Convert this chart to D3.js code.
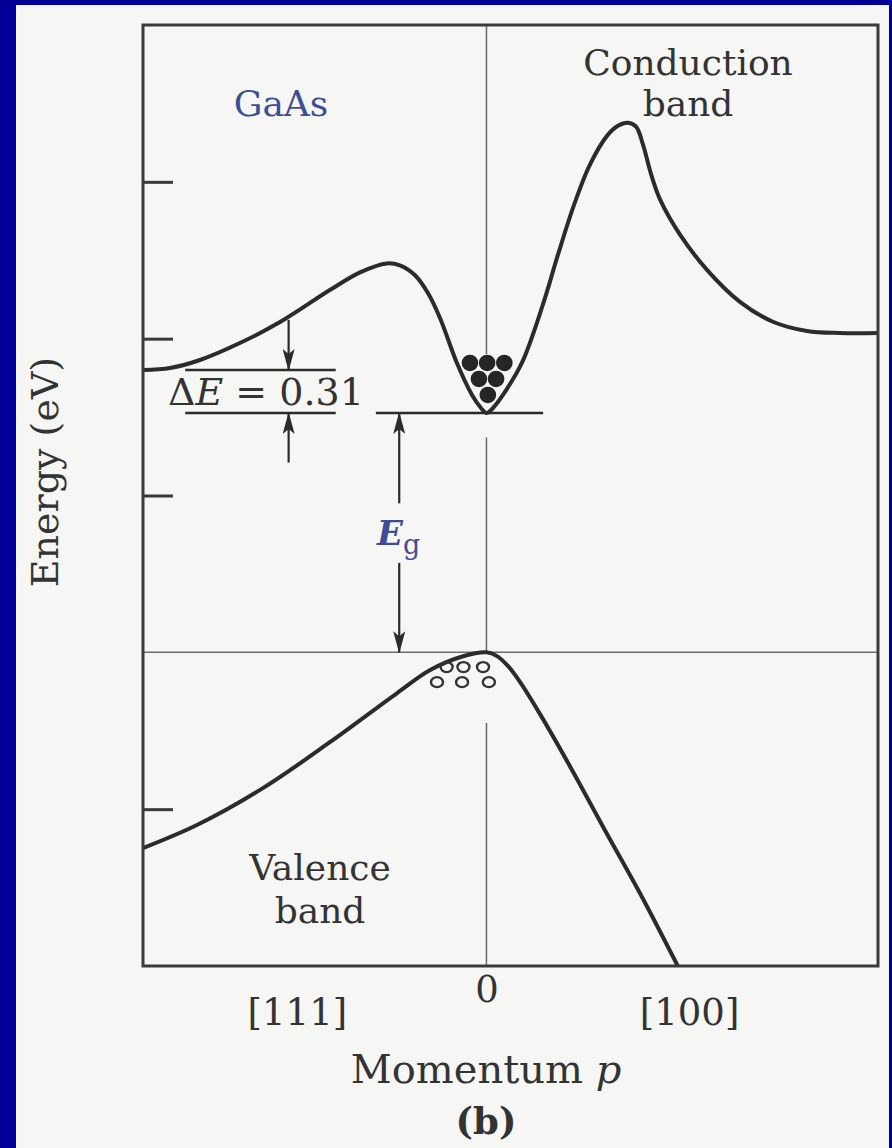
<!DOCTYPE html>
<html>
<head>
<meta charset="utf-8">
<script src="https://cdn.jsdelivr.net/npm/d3@7"></script>
<style>
  html, body { margin: 0; padding: 0; background: #000099; }
  svg { display: block; }
</style>
</head>
<body>
<div id="chart"></div>
<script>
// GaAs band diagram
// p in zone units ([111] to the left, [100] to the right), E in eV with valence top = 0
var condP = [-1.000, -0.921, -0.834, -0.718, -0.601, -0.456, -0.368, -0.290, -0.252, -0.208, -0.170, -0.135, -0.086, -0.042, -0.016, 0.0, 0.019, 0.048, 0.103, 0.164, 0.208, 0.255, 0.301, 0.351, 0.383, 0.412, 0.436, 0.456, 0.480, 0.506, 0.564, 0.642, 0.738, 0.834, 0.933, 1.029, 1.140];
var condE = [1.800, 1.813, 1.864, 1.972, 2.106, 2.310, 2.423, 2.480, 2.467, 2.404, 2.289, 2.130, 1.845, 1.641, 1.558, 1.526, 1.558, 1.641, 1.845, 2.215, 2.534, 2.853, 3.108, 3.293, 3.357, 3.376, 3.350, 3.235, 3.044, 2.885, 2.662, 2.439, 2.235, 2.108, 2.049, 2.036, 2.036];

var valP = [-1.000, -0.843, -0.651, -0.456, -0.261, -0.164, -0.068, 0.0, 0.031, 0.063, 0.098, 0.156, 0.243, 0.345, 0.447, 0.557];
var valE = [-1.248, -1.101, -0.866, -0.573, -0.261, -0.113, -0.025, 0.0, -0.024, -0.088, -0.190, -0.394, -0.726, -1.134, -1.536, -2.0];

// electrons sitting in the conduction minimum, holes at the valence top
var electronP = [-0.048, 0.002, 0.052, -0.022, 0.028, 0.004];
var electronE = [1.845, 1.845, 1.845, 1.743, 1.743, 1.641];
var holeP = [-0.116, -0.067, -0.010, -0.144, -0.071, 0.007];
var holeE = [-0.094, -0.094, -0.094, -0.190, -0.190, -0.190];

var energyTicks = [-1, 1, 2, 3];
var momentumLabels = ["[111]", "0", "[100]"];
var momentumLabelP = [-0.552, 0, 0.59];

var gapE = 1.526;     // bottom of conduction band
var valleyE = 1.80;   // [111] side valley
var deltaLabel = "0.31";

var W = 892, H = 1148;
var ink = "#2b2b2b";
var font = "DejaVu Serif, serif";

var svg = d3.select("#chart")
  .append("svg")
  .attr("width", W)
  .attr("height", H);

// page (scanned sheet) over the blue slide background
svg.append("rect")
  .attr("x", 0).attr("y", 0)
  .attr("width", W).attr("height", H)
  .attr("fill", "#000099");

svg.append("rect")
  .attr("x", 16).attr("y", 5)
  .attr("width", 873).attr("height", H - 5)
  .attr("fill", "#f6f6f4");

var x = d3.scaleLinear().domain([-1, 1.14]).range([143, 878]);
var y = d3.scaleLinear().domain([-2, 4]).range([966, 25]);

var defs = svg.append("defs");

defs.append("clipPath")
  .attr("id", "frameClip")
  .append("rect")
  .attr("x", x(-1)).attr("y", y(4))
  .attr("width", x(1.14) - x(-1)).attr("height", y(-2) - y(4));

defs.append("marker")
  .attr("id", "head")
  .attr("markerUnits", "userSpaceOnUse")
  .attr("viewBox", "0 0 22 12")
  .attr("refX", 21).attr("refY", 6)
  .attr("markerWidth", 22).attr("markerHeight", 12)
  .attr("orient", "auto")
  .append("path")
  .attr("d", "M0,0 L22,6 L0,12 L5,6 Z")
  .attr("fill", ink);

// thin reference lines: p = 0 and E = 0
var zeroSegments = [[4, 1.90], [1.37, 0], [-0.45, -2]];
svg.append("g")
  .selectAll("line")
  .data(zeroSegments)
  .enter()
  .append("line")
  .attr("x1", x(0)).attr("x2", x(0))
  .attr("y1", function(d) { return y(d[0]); })
  .attr("y2", function(d) { return y(d[1]); })
  .attr("stroke", "#6a6a6a")
  .attr("stroke-width", 1.5);

svg.append("line")
  .attr("x1", x(-1)).attr("x2", x(1.14))
  .attr("y1", y(0)).attr("y2", y(0))
  .attr("stroke", "#6a6a6a")
  .attr("stroke-width", 1.5);

// level lines for delta E and the gap
var levels = [
  { e: valleyE, p0: -0.877, p1: -0.439 },
  { e: gapE, p0: -0.877, p1: -0.439 },
  { e: gapE, p0: -0.322, p1: 0.165 }
];
svg.append("g")
  .selectAll("line")
  .data(levels)
  .enter()
  .append("line")
  .attr("x1", function(d) { return x(d.p0); })
  .attr("x2", function(d) { return x(d.p1); })
  .attr("y1", function(d) { return y(d.e); })
  .attr("y2", function(d) { return y(d.e); })
  .attr("stroke", ink)
  .attr("stroke-width", 2.4);

// arrows: [p, from E, to E]
var arrows = [
  [-0.576, 2.12, valleyE],
  [-0.576, 1.21, gapE],
  [-0.254, 0.95, gapE],
  [-0.254, 0.57, 0]
];
svg.append("g")
  .selectAll("line")
  .data(arrows)
  .enter()
  .append("line")
  .attr("x1", function(d) { return x(d[0]); })
  .attr("x2", function(d) { return x(d[0]); })
  .attr("y1", function(d) { return y(d[1]); })
  .attr("y2", function(d) { return y(d[2]); })
  .attr("stroke", ink)
  .attr("stroke-width", 2.2)
  .attr("marker-end", "url(#head)");

// bands
var line = d3.line()
  .x(function(d) { return x(d[0]); })
  .y(function(d) { return y(d[1]); })
  .curve(d3.curveCatmullRom.alpha(0.5));

var bands = svg.append("g").attr("clip-path", "url(#frameClip)");

bands.append("path")
  .datum(d3.zip(condP, condE))
  .attr("d", line)
  .attr("fill", "none")
  .attr("stroke", ink)
  .attr("stroke-width", 4)
  .attr("stroke-linejoin", "round");

bands.append("path")
  .datum(d3.zip(valP, valE))
  .attr("d", line)
  .attr("fill", "none")
  .attr("stroke", ink)
  .attr("stroke-width", 4)
  .attr("stroke-linejoin", "round");

// electrons and holes
svg.append("g")
  .selectAll("circle")
  .data(d3.zip(electronP, electronE))
  .enter()
  .append("circle")
  .attr("cx", function(d) { return x(d[0]); })
  .attr("cy", function(d) { return y(d[1]); })
  .attr("r", 8.3)
  .attr("fill", "#262626");

svg.append("g")
  .selectAll("ellipse")
  .data(d3.zip(holeP, holeE))
  .enter()
  .append("ellipse")
  .attr("cx", function(d) { return x(d[0]); })
  .attr("cy", function(d) { return y(d[1]); })
  .attr("rx", 6)
  .attr("ry", 5)
  .attr("fill", "none")
  .attr("stroke", "#333")
  .attr("stroke-width", 2.4);

// frame
svg.append("rect")
  .attr("x", x(-1)).attr("y", y(4))
  .attr("width", x(1.14) - x(-1)).attr("height", y(-2) - y(4))
  .attr("fill", "none")
  .attr("stroke", "#3a3a3a")
  .attr("stroke-width", 3);

// energy ticks (inside, no labels)
var yAxis = svg.append("g")
  .attr("transform", "translate(" + x(-1) + ",0)")
  .call(d3.axisRight(y).tickValues(energyTicks).tickSize(30).tickFormat(""));
yAxis.select(".domain").remove();
yAxis.selectAll(".tick line").attr("stroke", "#3a3a3a").attr("stroke-width", 3);

// momentum labels
var xAxis = svg.append("g")
  .attr("transform", "translate(0," + y(-2) + ")")
  .call(d3.axisBottom(x).tickValues(momentumLabelP).tickSize(0)
    .tickFormat(function(d, i) { return momentumLabels[i]; }));
xAxis.select(".domain").remove();
xAxis.selectAll(".tick text")
  .attr("font-family", font)
  .attr("font-size", 37)
  .attr("fill", "#333")
  .attr("dy", null)
  .attr("y", function(d, i) { return i === 1 ? 36 : 59; });

// text
function label(tx, ty, str, opts) {
  opts = opts || {};
  return svg.append("text")
    .attr("x", tx).attr("y", ty)
    .attr("text-anchor", opts.anchor || "middle")
    .attr("font-family", font)
    .attr("font-size", opts.size || 36)
    .attr("font-weight", opts.weight || "normal")
    .attr("fill", opts.fill || "#333")
    .text(str);
}

label(281, 116, "GaAs", { fill: "#3d4e98" });
label(688, 75, "Conduction");
label(688, 116, "band");
label(320, 880, "Valence");
label(320, 923, "band");

var dE = svg.append("text")
  .attr("x", 168).attr("y", 405)
  .attr("font-family", font)
  .attr("font-size", 38)
  .attr("fill", "#333");
dE.append("tspan").text("\u0394");
dE.append("tspan").attr("font-style", "italic").text("E");
dE.append("tspan").text(" = " + deltaLabel);

var eg = svg.append("text")
  .attr("x", 377).attr("y", 545)
  .attr("font-family", font)
  .attr("font-size", 34)
  .attr("fill", "#3d4e98");
eg.append("tspan").attr("font-style", "italic").attr("font-weight", "bold").text("E");
eg.append("tspan").attr("font-size", 27).attr("dy", 9).text("g");

svg.append("text")
  .attr("transform", "translate(58,472) rotate(-90)")
  .attr("text-anchor", "middle")
  .attr("font-family", font)
  .attr("font-size", 38)
  .attr("fill", "#333")
  .text("Energy (eV)");

var mom = svg.append("text")
  .attr("x", 486).attr("y", 1083)
  .attr("text-anchor", "middle")
  .attr("font-family", font)
  .attr("font-size", 40)
  .attr("fill", "#333");
mom.append("tspan").text("Momentum ");
mom.append("tspan").attr("font-style", "italic").text("p");

label(486, 1134, "(b)", { weight: "bold", size: 37 });
</script>
</body>
</html>
